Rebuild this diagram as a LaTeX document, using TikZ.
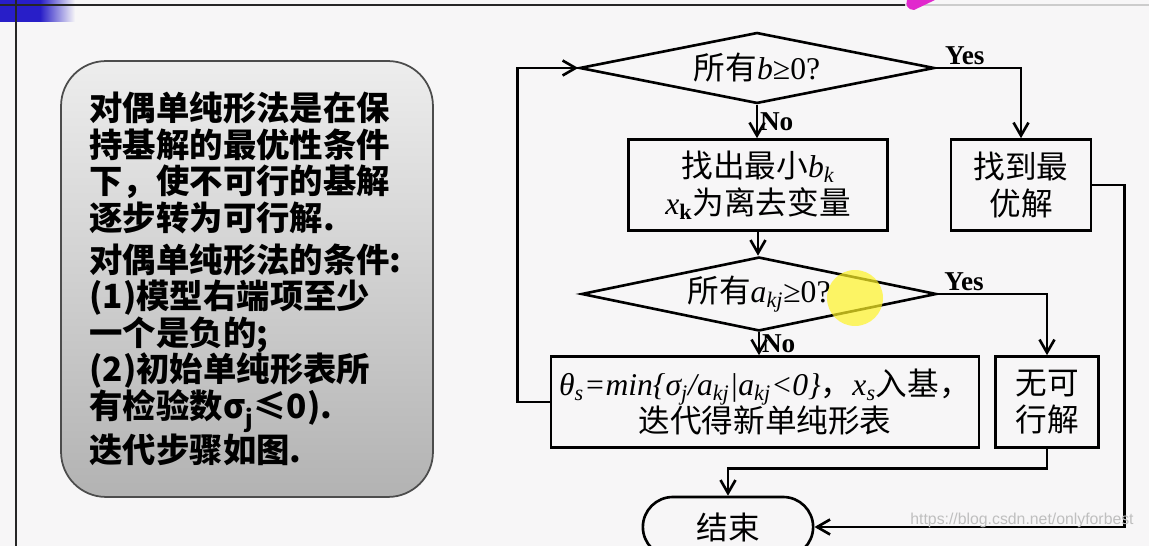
\documentclass[tikz,border=0pt]{standalone}
\usepackage{fontspec}
\setmainfont{Liberation Serif}
\newfontfamily\zhfont{Noto Sans CJK SC}
\newfontfamily\heifont{Noto Sans CJK SC}
\newfontfamily\wmfont{Liberation Sans}
\usetikzlibrary{shapes.geometric, shapes.misc, arrows.meta, positioning}
\definecolor{slidebg}{RGB}{247,246,247}
\definecolor{slideblue}{RGB}{40,30,200}
\definecolor{blobpink}{RGB}{225,40,205}
\newcommand{\zh}[1]{{\zhfont #1}}
\newcommand{\flowfont}{\fontsize{18}{21}\selectfont}
\newcommand{\notefont}{\heifont\bfseries\fontsize{19}{20.8}\selectfont}
\newcommand{\sub}[1]{\textsubscript{#1}}

\begin{document}
\begin{tikzpicture}[
  x=0.02cm, y=-0.02cm, line width=1.5pt,
  arr/.style={-{Straight Barb[length=2.6mm,width=3mm]}},
  flowbox/.style={draw, rectangle, minimum height=1.82cm, align=center, font=\flowfont, inner sep=2pt},
  decide/.style={draw, diamond, minimum width=7.1cm, minimum height=1.42cm, inner sep=0pt, shape aspect=5, font=\flowfont},
  endbox/.style={draw, rounded rectangle, minimum width=3.64cm, minimum height=1.2cm, font=\flowfont},
  yn/.style={font=\fontsize{15.5}{18}\selectfont\bfseries, inner sep=1pt},
  notebox/.style={draw=black!70, line width=1pt, rounded corners=0.9cm, top color=black!7, bottom color=black!30, minimum width=7.44cm, minimum height=8.72cm, text width=6.3cm, align=left, font=\notefont}
]
  \useasboundingbox (0,0) rectangle (1149,546);
  \fill[slidebg] (0,0) rectangle (1149,546);

  % slide frame
  \fill[slideblue] (0,0) rectangle (40,22);
  \shade[left color=slideblue, right color=slidebg] (40,0) rectangle (75,22);
  \draw[black!85] (0,5) -- (905,5);
  \draw[black!20] (905,5) -- (1149,5);
  \draw[black!85] (16,0) -- (16,546);
  \fill[blobpink] (907,0) -- (935,0) -- (914,10) .. controls (908,10) and (905,5) .. (907,0) -- cycle;

  % note
  \node[notebox] (note) at (247,279) {
    对偶单纯形法是在保\\
    持基解的最优性条件\\
    下，使不可行的基解\\
    逐步转为可行解.\\[3pt]
    对偶单纯形法的条件:\\
    (1)模型右端项至少\\
    一个是负的;\\
    (2)初始单纯形表所\\
    有检验数σ\textsubscript{j}≤0).\\
    迭代步骤如图.
  };

  % flow chart
  \node[decide] (q1) at (757,68) {\zh{所有}\textit{b}≥0?};
  \node[flowbox, minimum width=5.18cm] (b1) at (758,185) {\zh{找出最小}\textit{b\sub{k}}\\\textit{x}\sub{\textbf{k}}\zh{为离去变量}};
  \node[flowbox, minimum width=2.8cm] (b2) at (1021,185) {\zh{找到最}\\\zh{优解}};
  \node[decide, minimum height=1.48cm] (q2) at (759,294) {\zh{所有}\textit{a\sub{kj}}≥0?};
  \node[flowbox, minimum width=8.56cm, text width=8.3cm] (b3) at (765,402) {\textit{θ\sub{s}=min\{σ\sub{j}/a\sub{kj}|a\sub{kj}<0\}}\zh{，}\textit{x\sub{s}}\zh{入基，}\\\zh{迭代得新单纯形表}};
  \node[flowbox, minimum width=2.06cm] (b4) at (1047,402) {\zh{无可}\\\zh{行解}};
  \node[endbox] (stop) at (728,527) {\zh{结束}};

  \draw[arr] (q1.south) -- node[yn, right]{No} (q1.south |- b1.north);
  \draw[arr] (q1.east) -| node[yn, above, pos=.17]{Yes} (b2.north);
  \draw[arr] (b1.south) -- (b1.south |- q2.north);
  \draw[arr] (q2.south) -- node[yn, right]{No} (q2.south |- b3.north);
  \draw[arr] (q2.east) -| node[yn, above, pos=.12]{Yes} (b4.north);
  \draw[arr] (b3.west) -- ++(-32,0) |- (q1.west);
  \draw[arr] (b4.south) -- ++(0,20) -| (stop.north);
  \draw[arr] (b2.east) -- ++(32,0) |- (stop.east);

  \fill[yellow!85!white, opacity=.7] (855,298) circle (0.56cm);
  \node[font=\wmfont\fontsize{9}{10}\selectfont, text=black!25] (wm) at (1022,520) {https://blog.csdn.net/onlyforbest};
\end{tikzpicture}
\end{document}
